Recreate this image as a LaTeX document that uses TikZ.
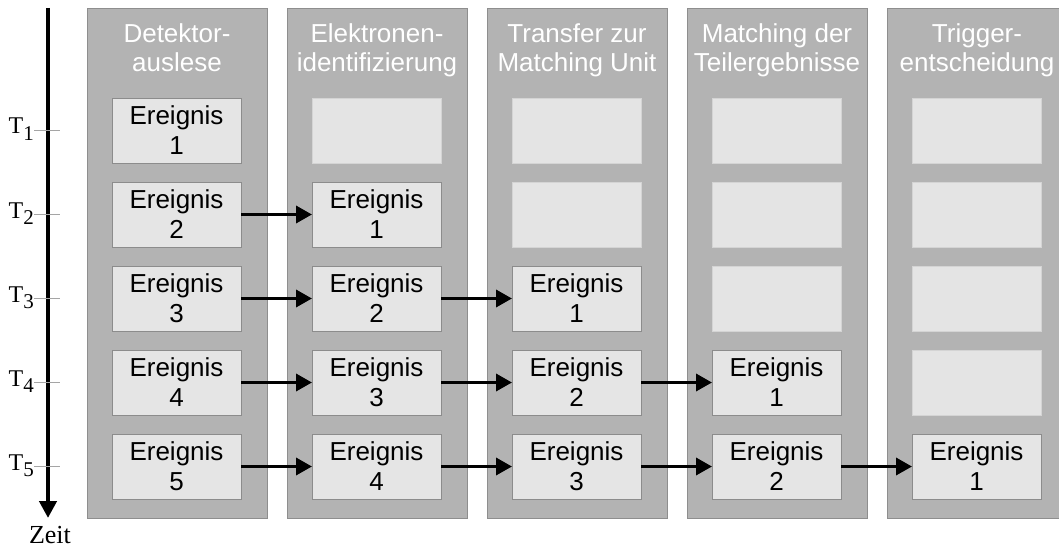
\documentclass[tikz,border=0pt]{standalone}
\usepackage{fontspec}
\setmainfont{Liberation Sans}
\newfontfamily\tnr{Liberation Serif}
\usetikzlibrary{arrows.meta}
\definecolor{colbg}{RGB}{179,179,179}
\definecolor{colbd}{RGB}{142,142,142}
\definecolor{boxbg}{RGB}{229,229,229}
\definecolor{boxbd}{RGB}{140,140,140}
\definecolor{emptybg}{RGB}{228,228,228}
\definecolor{emptybd}{RGB}{212,212,212}
\definecolor{tickcol}{RGB}{165,165,165}
\begin{document}
\begin{tikzpicture}[x=1pt,y=-1pt,
  column/.style={draw=colbd, fill=colbg, line width=0.9pt, inner sep=0pt, outer sep=0pt,
    minimum width=180pt, minimum height=510pt, anchor=north west},
  header/.style={anchor=north, inner sep=0pt, align=center, text=white,
    font=\fontsize{26}{29}\selectfont},
  evbox/.style={draw=boxbd, fill=boxbg, line width=0.8pt, inner sep=0pt, outer sep=0pt,
    minimum width=129pt, minimum height=65pt, align=center,
    font=\fontsize{26}{30}\selectfont},
  emptybox/.style={evbox, draw=emptybd, fill=emptybg},
  flow/.style={line width=3.5pt, -{Triangle[length=16pt,width=17pt]}},
  axisline/.style={line width=4.5pt, -{Triangle[length=17pt,width=17pt]}},
  tickline/.style={draw=tickcol, line width=0.8pt},
  tlabel/.style={anchor=base east, inner sep=0pt, font=\tnr\fontsize{24}{24}\selectfont},
  zeitlabel/.style={anchor=base, inner sep=0pt, font=\tnr\fontsize{26}{26}\selectfont}
]
\useasboundingbox (0,0) rectangle (1059,548);
\clip (0,0) rectangle (1059,548);
\fill[white] (0,0) rectangle (1059,548);

% columns and headers
\foreach \c/\txt in {1/{Detektor-\\auslese}, 2/{Elektronen-\\identifizierung},
    3/{Transfer zur\\Matching Unit}, 4/{Matching der\\Teilergebnisse},
    5/{Trigger-\\entscheidung}} {
  \node[column] (col-\c) at ({87+200*(\c-1)},8) {};
  \node[header] (head-\c) at ({177+200*(\c-1)},22) {\rule{0pt}{20pt}\txt};
}

% boxes
\foreach \r in {1,...,5} {
  \foreach \c in {1,...,5} {
    \ifnum\c>\r
      \node[emptybox] (b-\r-\c) at ({176.5+200*(\c-1)},{130.5+84*(\r-1)}) {};
    \else
      \pgfmathtruncatemacro{\ev}{\r-\c+1}
      \node[evbox] (b-\r-\c) at ({176.5+200*(\c-1)},{130.5+84*(\r-1)}) {Ereignis\\\ev};
    \fi
  }
}

% arrows between boxes
\foreach \r in {2,...,5} {
  \pgfmathtruncatemacro{\last}{\r-1}
  \foreach \c in {1,...,\last} {
    \pgfmathtruncatemacro{\nx}{\c+1}
    \draw[flow] (b-\r-\c.east) -- (b-\r-\nx.west);
  }
}

% time axis
\coordinate (ax-top) at (48,8);
\coordinate (ax-end) at (48,518);
\draw[axisline] (ax-top) -- (ax-end);
\node[zeitlabel] (zeit) at (50,543) {Zeit};

% ticks and labels
\foreach \r in {1,...,5} {
  \coordinate (tk-\r-a) at (34,{130.5+84*(\r-1)});
  \coordinate (tk-\r-b) at (60,{130.5+84*(\r-1)});
  \draw[tickline] (tk-\r-a) -- (tk-\r-b);
  \node[tlabel] (t-\r) at (34,{134+84*(\r-1)}) {T\raisebox{-6.5pt}{\fontsize{21}{21}\selectfont\r}};
}
\end{tikzpicture}
\end{document}
